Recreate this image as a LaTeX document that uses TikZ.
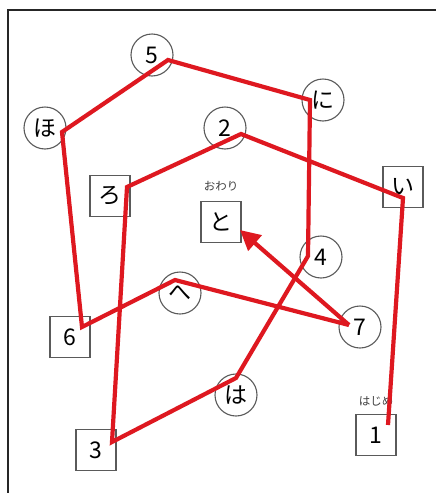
\documentclass[tikz,border=0pt]{standalone}
\usepackage{fontspec}
\setmainfont{Noto Sans CJK JP}
\usetikzlibrary{arrows.meta}
\definecolor{route}{RGB}{222,24,32}
\definecolor{outl}{RGB}{90,90,90}
\begin{document}
\begin{tikzpicture}[x=1pt,y=-1pt,
  lbl/.style={font=\fontsize{23}{25}\selectfont, inner sep=0pt},
  circ/.style={lbl, circle, draw=outl, line width=1.1pt, minimum size=42pt},
  sq/.style={lbl, rectangle, draw=outl, line width=1.1pt, minimum width=40pt, minimum height=41pt},
  small/.style={font=\fontsize{11.5}{12}\selectfont, text=black!75, inner sep=0pt},
  redline/.style={route, line width=4.2pt}]
\useasboundingbox (0,0) rectangle (436,493);
\draw[line width=2pt, black!85] (8,493) -- (8,10) -- (436,10);

\node[circ] (n5) at (152,55) {5};
\node[circ] (nni) at (323,100) {に};
\node[circ] (nho) at (45,128) {ほ};
\node[circ] (n2) at (225,128) {2};
\node[sq] (nro) at (110,196) {ろ};
\node[sq] (ni) at (403,187) {い};
\node[sq] (nto) at (221,222) {と};
\node[small] (lend) at (221,186) {おわり};
\node[circ] (n4) at (321,257) {4};
\node[circ] (nhe) at (180,293) {へ};
\node[sq] (n6) at (70,337) {6};
\node[circ] (n7) at (360,327) {7};
\node[circ] (nha) at (236,395) {は};
\node[sq] (n3) at (96,450) {3};
\node[sq] (n1) at (376,435) {1};
\node[small] (lstart) at (376,401) {はじめ};

\draw[redline]
  ([shift={(12,-10)}]n1.center) --
  ([shift={(0,11)}]ni.center) --
  ([shift={(16,6)}]n2.center) --
  ([shift={(17,-9)}]nro.center) --
  ([shift={(16,-8)}]n3.center) --
  ([shift={(0,-17)}]nha.center) --
  ([shift={(-13,-1)}]n4.center) --
  ([shift={(-13,0)}]nni.center) --
  ([shift={(16,5)}]n5.center) --
  ([shift={(17,4)}]nho.center) --
  ([shift={(12,-10)}]n6.center) --
  ([shift={(-5,-13)}]nhe.center) --
  ([shift={(-11,-2)}]n7.center);
\draw[redline, -{Triangle[length=20pt,width=20pt]}]
  ([shift={(-11,-2)}]n7.center) -- ([shift={(19,8)}]nto.center);
\end{tikzpicture}
\end{document}
